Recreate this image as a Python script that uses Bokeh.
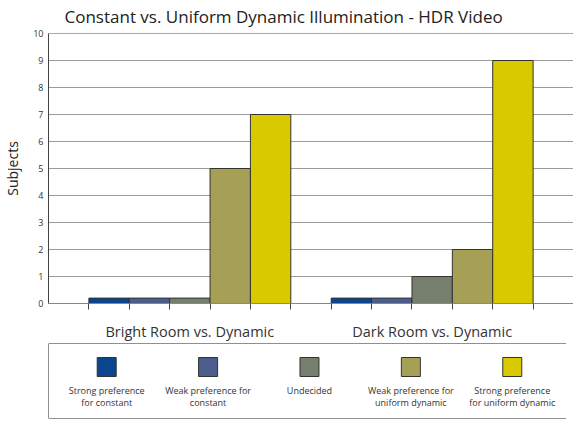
from bokeh.plotting import figure
from bokeh.models import Range1d, FixedTicker, Span, ColumnDataSource
from bokeh.layouts import column
from bokeh.embed import file_html
from bokeh.resources import INLINE
from bokeh.core.properties import value

# ---- data ----
groups = ["Bright Room vs. Dynamic", "Dark Room vs. Dynamic"]
series = ["Strong preference for constant", "Weak preference for constant", "Undecided",
          "Weak preference for uniform dynamic", "Strong preference for uniform dynamic"]
legend_labels = ["Strong preference\nfor constant", "Weak preference for\nconstant", "Undecided",
                 "Weak preference for\nuniform dynamic", "Strong preference\nfor uniform dynamic"]
colors = ["#0b4590", "#4a5d8b", "#767f6e", "#a69f56", "#d8c900"]
values_bright = [0.2, 0.2, 0.2, 5, 7]
values_dark = [0.2, 0.2, 1, 2, 9]
y_ticks = list(range(0, 11))

FONT = "Open Sans"
n_s = len(series)
slot = n_s + 1  # one empty slot between groups

# positions via index layout
xs, tops, cols = [], [], []
for gi, vals in enumerate([values_bright, values_dark]):
    for si, v in enumerate(vals):
        xs.append(1.5 + gi * slot + si)
        tops.append(v)
        cols.append(colors[si])
group_centers = [1 + gi * slot + n_s / 2 for gi in range(len(groups))]
edges = sorted(set([x - 0.5 for x in xs] + [x + 0.5 for x in xs]))

p = figure(frame_width=525, frame_height=270, output_backend="svg", toolbar_location=None,
           x_range=Range1d(0, 2 * slot + 1), y_range=Range1d(0, 10),
           min_border_left=41, min_border_right=0, min_border_bottom=40, min_border_top=25)
p.title.text = "Constant vs. Uniform Dynamic Illumination - HDR Video"
p.title.text_font = FONT
p.title.text_font_size = "17px"
p.title.text_font_style = "normal"
p.title.text_color = "#222222"
p.title.align = "left"
p.title.vertical_align = "top"
p.title.offset = 16
p.title.standoff = 8

src = ColumnDataSource(dict(x=xs, top=tops, color=cols))
p.vbar(x="x", top="top", width=1, bottom=0, source=src, fill_color="color",
       line_color="#333333", line_width=1)

p.outline_line_color = None
p.xgrid.grid_line_color = None
p.ygrid.grid_line_color = "#9a9a9a"
p.ygrid.grid_line_width = 1
p.ygrid.ticker = FixedTicker(ticks=y_ticks)
p.add_layout(Span(location=10, dimension="width", line_color="#555555", line_width=1))

p.yaxis.ticker = FixedTicker(ticks=y_ticks)
p.yaxis.axis_label = "Subjects"
p.yaxis.axis_label_text_font = FONT
p.yaxis.axis_label_text_font_size = "14px"
p.yaxis.axis_label_text_font_style = "normal"
p.yaxis.axis_label_text_color = "#222222"
p.yaxis.axis_label_standoff = 8
p.yaxis.major_label_text_font = FONT
p.yaxis.major_label_text_font_size = "9px"
p.yaxis.major_label_text_color = "#333333"
p.yaxis.major_tick_out = 0
p.yaxis.major_tick_in = 0
p.yaxis.minor_tick_out = 0
p.yaxis.major_label_standoff = 5
p.yaxis.axis_line_color = "#444444"

p.xaxis.ticker = FixedTicker(ticks=group_centers, minor_ticks=edges)
p.xaxis.major_label_overrides = {c: g for c, g in zip(group_centers, groups)}
p.xaxis.major_label_text_font = FONT
p.xaxis.major_label_text_font_size = "14.5px"
p.xaxis.major_label_text_color = "#333333"
p.xaxis.major_tick_out = 0
p.xaxis.major_tick_in = 0
p.xaxis.minor_tick_out = 6
p.xaxis.minor_tick_in = 0
p.xaxis.minor_tick_line_color = "#444444"
p.xaxis.major_label_standoff = 12
p.xaxis.axis_line_color = "#888888"

# ---- legend figure ----
lg = figure(width=566, height=77, output_backend="svg", toolbar_location=None,
            x_range=Range1d(-0.574, 4.535), y_range=Range1d(75, 0),
            min_border_left=41, min_border_right=0, min_border_top=0, min_border_bottom=2)
lg.axis.visible = False
lg.grid.visible = False
lg.outline_line_color = None
for loc, dim in [(0, "width"), (75, "width")]:
    lg.add_layout(Span(location=loc, dimension=dim, line_color="#222222", line_width=1))
lg.add_layout(Span(location=-0.574, dimension="height", line_color="#222222", line_width=1))
idx = list(range(n_s))
lsrc = ColumnDataSource(dict(x=idx, y=[23.5] * n_s, color=colors, label=legend_labels,
                             ty=[40] * n_s))
lg.rect(x="x", y="y", width=19, height=19, width_units="screen", height_units="screen",
        fill_color="color", line_color="#333333", line_width=1, source=lsrc)
lg.text(x="x", y="ty", text="label", source=lsrc, text_font=value(FONT),
        text_font_size="9px", text_color="#333333", text_align="center",
        text_baseline="top", text_line_height=0.95)

layout = column(p, lg, spacing=0)
open("out.html", "w").write(file_html(layout, INLINE))
